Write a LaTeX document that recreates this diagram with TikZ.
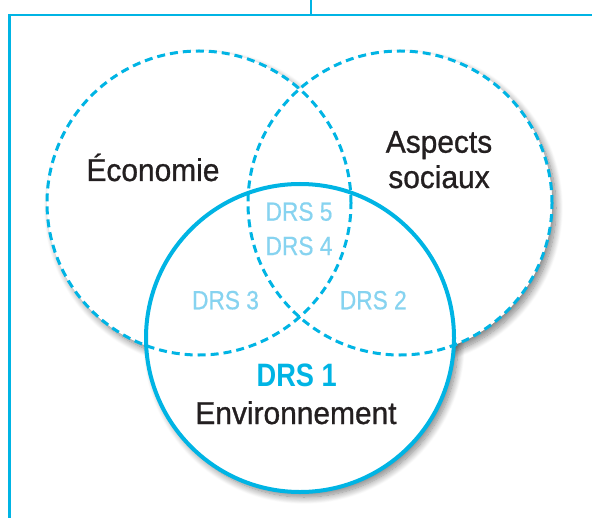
\documentclass[tikz,border=0pt]{standalone}
\usepackage{fontspec}
\setmainfont{Liberation Sans}
\newfontfamily\labelfont{Liberation Sans}[FakeStretch=0.95,FakeBold=0.9]
\newfontfamily\drsfont{Liberation Sans}[FakeStretch=0.86,FakeBold=0.5]
\newfontfamily\drsbold{Liberation Sans Bold}[FakeStretch=0.84]
\usetikzlibrary{shadows.blur}
\definecolor{cyanline}{RGB}{0,180,228}
\definecolor{lightdrs}{RGB}{134,211,240}
\definecolor{inktext}{RGB}{35,31,32}
\begin{document}
\begin{tikzpicture}[x=1bp,y=-1bp,
  frameline/.style={draw=cyanline,line width=2.6bp},
  shadowdisc/.style={fill=white,blur shadow={shadow xshift=4bp,shadow yshift=-5bp,shadow blur radius=7bp,shadow blur steps=12,shadow opacity=50}},
  whitedisc/.style={fill=white},
  dashring/.style={draw=cyanline,line width=3bp,dash pattern=on 8bp off 5bp},
  solidring/.style={draw=cyanline,line width=4bp},
  bigtext/.style={inner sep=0pt,anchor=base,text=inktext,font=\labelfont\fontsize{31.6}{35}\selectfont},
  drstext/.style={inner sep=0pt,anchor=base,text=lightdrs,font=\drsfont\fontsize{26.5}{30}\selectfont},
  drsone/.style={inner sep=0pt,anchor=base,text=cyanline,font=\drsbold\fontsize{32.5}{36}\selectfont}
]
\useasboundingbox (0,0) rectangle (592,518);
% frame
\coordinate (stubtop) at (311,0);
\coordinate (stubbot) at (311,15);
\coordinate (fl) at (9.5,15);
\coordinate (fr) at (592,15);
\coordinate (fb) at (9.5,518);
\draw[frameline] (stubtop) -- (stubbot);
\draw[frameline,line cap=rect] (fr) -- (fl) -- (fb);
% circle centres
\coordinate (ce) at (199,203);
\coordinate (cs) at (400,203);
\coordinate (cv) at (300,338);
% shadows + fills
\path[shadowdisc] (ce) circle (152bp);
\path[shadowdisc] (cs) circle (152bp);
\path[shadowdisc] (cv) circle (154bp);
\path[whitedisc] (ce) circle (152bp);
\path[whitedisc] (cs) circle (152bp);
\path[whitedisc] (cv) circle (154bp);
% outlines
\draw[dashring] (ce) circle (152bp);
\draw[dashring] (cs) circle (152bp);
\draw[solidring] (cv) circle (154bp);
% labels
\node[bigtext] (eco) at (153,181) {Économie};
\node[bigtext] (asp) at (439,152.7) {Aspects};
\node[bigtext] (soc) at (439,188) {sociaux};
\node[drstext] (d5) at (299,220.7) {DRS 5};
\node[drstext] (d4) at (299,255) {DRS 4};
\node[drstext] (d3) at (225.5,309.3) {DRS 3};
\node[drstext] (d2) at (373.3,309.3) {DRS 2};
\node[drsone] (d1) at (296.7,386) {DRS 1};
\node[bigtext] (env) at (296,424) {Environnement};
\end{tikzpicture}
\end{document}
